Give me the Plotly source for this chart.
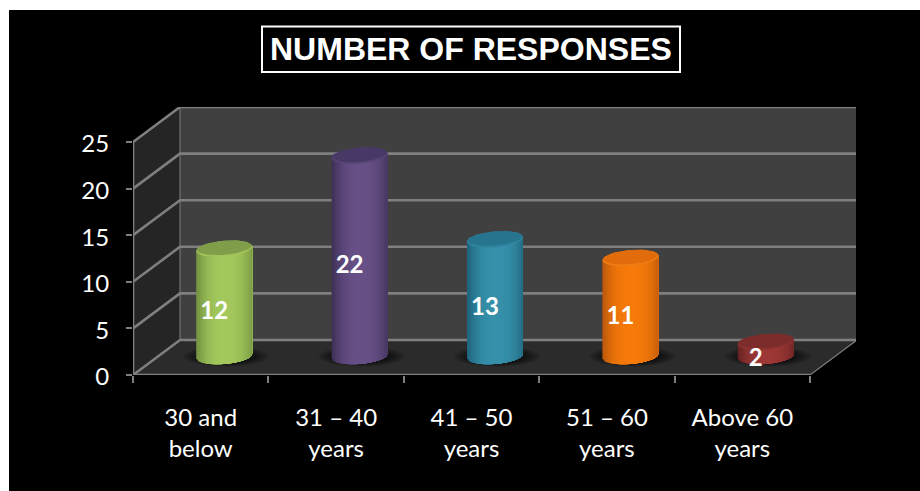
import math
import plotly.graph_objects as go

# Survey responses by age band
categories = ["30 and<br>below", "31 – 40<br>years", "41 – 50<br>years", "51 – 60<br>years", "Above 60<br>years"]
responses = [12, 22, 13, 11, 2]

# Cylinder colours: side edge, side centre, cap, cap rim
edge_colors = [(118, 148, 66), (64, 49, 90), (32, 102, 126), (190, 90, 10), (106, 36, 34)]
centre_colors = [(163, 200, 92), (102, 80, 134), (54, 144, 170), (246, 122, 10), (156, 56, 54)]
cap_colors = [(128, 158, 74), (72, 56, 102), (38, 116, 142), (226, 108, 12), (124, 44, 42)]
rim_colors = [(160, 196, 90), (86, 68, 116), (48, 134, 160), (240, 124, 20), (142, 52, 50)]

value_ticks = [0, 5, 10, 15, 20, 25]
category_edges = [0, 1, 2, 3, 4, 5]

X_MAX = 723 / 135.4
Y_MAX = 268 / 9.32
DEPTH_X = 47 / 135.4
DEPTH_Y = 35 / 9.32

GRID = "#7f7f7f"
fig = go.Figure()


def project(cat, val, depth=0.0):
    """Oblique projection of (category, value, depth) onto the flat axes."""
    return cat + DEPTH_X * depth, val + DEPTH_Y * depth


def polygon(points, color, opacity=1.0):
    xs, ys = zip(*points)
    fig.add_trace(go.Scatter(x=list(xs) + [xs[0]], y=list(ys) + [ys[0]], mode="lines",
                             line=dict(width=0), fill="toself", fillcolor=color,
                             opacity=opacity, hoverinfo="skip", showlegend=False))


def segment(points, width=2.6):
    xs, ys = zip(*points)
    fig.add_trace(go.Scatter(x=xs, y=ys, mode="lines", line=dict(color=GRID, width=width),
                             hoverinfo="skip", showlegend=False))


def rgb(c):
    return "rgb(%d,%d,%d)" % tuple(round(v) for v in c)


def mix(a, b, t):
    return tuple(p + (q - p) * t for p, q in zip(a, b))


top = value_ticks[-1]
last = category_edges[-1]

# Room: floor, side wall and back wall
polygon([project(0, 0), project(last, 0), project(last, 0, 1), project(0, 0, 1)], "#2b2b2b")
polygon([project(0, 0), project(0, 0, 1), project(0, top, 1), project(0, top)], "#252525")
polygon([project(0, 0, 1), project(last, 0, 1), project(last, top, 1), project(0, top, 1)], "#404040")

for tick in value_ticks:
    segment([project(0, tick), project(0, tick, 1), project(last, tick, 1)])
segment([project(last, 0, 1), project(last, top, 1)], 1.6)
segment([project(0, 0, 1), project(0, top, 1)], 1.0)
segment([project(last, 0), project(last, 0, 1)], 1.2)
segment([project(0, 0), project(0, top)])
segment([project(0, 0), project(last, 0)])

# Cylinder proportions in axis units
RX = 28 / 135.4
RY = 8 / 9.32
TILT = 2.2 / 9.32
BASE_LIFT = 2.04
TOP_LIFT = 1.55


def ellipse(cx, cy, rx, ry, tilt, n=64):
    return [(cx + rx * math.cos(2 * math.pi * k / n),
             cy + ry * math.sin(2 * math.pi * k / n) + tilt * math.cos(2 * math.pi * k / n))
            for k in range(n)]


for i, value in enumerate(responses):
    cx, _ = project(i + 0.5, 0, 0.5)
    base_y = BASE_LIFT
    top_y = value + TOP_LIFT

    # Soft contact shadow on the floor
    for step in range(12):
        grow = 1.55 - step * 0.05
        polygon(ellipse(cx + 0.015, base_y - 0.05, RX * grow, RY * grow * 0.82, 0), "#000000", 0.05)

    # Side surface: each strip runs to the right edge, so no seams show between strips
    strips = 30
    for s in range(strips):
        u0 = -1 + 2 * s / strips
        um = u0 + 1 / strips
        shade = 1 - abs(um - 0.05) ** 2.6
        color = rgb(mix(edge_colors[i], centre_colors[i], max(0, shade)))
        us = [u0 + (1 - u0) * k / 24 for k in range(25)]
        lower = [(cx + RX * u, base_y - RY * math.sqrt(max(0, 1 - u * u)) + TILT * u) for u in us]
        upper = [(cx + RX * u, top_y + TILT * u) for u in reversed(us)]
        polygon(lower + upper, color)

    # Cap: light rim with the darker face just above it
    polygon(ellipse(cx, top_y, RX, RY, TILT), rgb(rim_colors[i]))
    polygon(ellipse(cx, top_y + 0.1, RX * 0.98, RY * 0.88, TILT), rgb(cap_colors[i]))

# Value labels sit halfway up each column
label_x = [project(i + 0.5, 0, 0.5)[0] - 10 / 135.4 for i in range(len(responses))]
label_y = [v / 2 + 0.6 for v in responses]
fig.add_trace(go.Scatter(x=label_x, y=label_y, mode="text", text=[str(v) for v in responses],
                         textposition="middle center", hoverinfo="skip", showlegend=False,
                         textfont=dict(family="Lato", size=24, color="white", weight=700)))

fig.update_layout(
    width=920, height=491,
    autosize=False,
    margin=dict(l=133, r=64, t=107, b=116, autoexpand=False),
    paper_bgcolor="white",
    plot_bgcolor="rgba(0,0,0,0)",
    showlegend=False,
    xaxis=dict(range=[0, X_MAX], showgrid=False, zeroline=False, showline=False,
               tickmode="array", tickvals=[i + 0.5 for i in range(len(categories))],
               ticktext=categories, ticks="", ticklabelstandoff=26,
               tickfont=dict(family="Lato", size=24, color="white"),
               minor=dict(tickmode="array", tickvals=category_edges, ticks="outside",
                          ticklen=7, tickwidth=2, tickcolor=GRID)),
    yaxis=dict(range=[0, Y_MAX], showgrid=False, zeroline=False, showline=False,
               tickmode="array", tickvals=value_ticks, ticks="outside",
               ticklen=6, tickwidth=2, tickcolor=GRID, ticklabelstandoff=12, ticklabelshift=2,
               tickfont=dict(family="Lato", size=24, color="white")),
    shapes=[
        dict(type="rect", xref="paper", yref="paper", layer="below", line=dict(width=0),
             fillcolor="black", x0=(9 - 133) / 723, x1=(920 - 133) / 723,
             y0=(375 - 491) / 268, y1=(375 - 10) / 268),
        dict(type="rect", xref="paper", yref="paper", layer="below",
             line=dict(color="white", width=2),
             x0=(262 - 133) / 723, x1=(680 - 133) / 723,
             y0=(375 - 72) / 268, y1=(375 - 26.5) / 268),
    ],
    annotations=[dict(text="<b>NUMBER OF RESPONSES</b>", xref="paper", yref="paper",
                      x=(470.5 - 133) / 723, y=(375 - 49.5) / 268, xanchor="center", yanchor="middle",
                      showarrow=False, font=dict(family="Liberation Sans", size=32, color="white"))],
)

fig.write_html("out.html")
